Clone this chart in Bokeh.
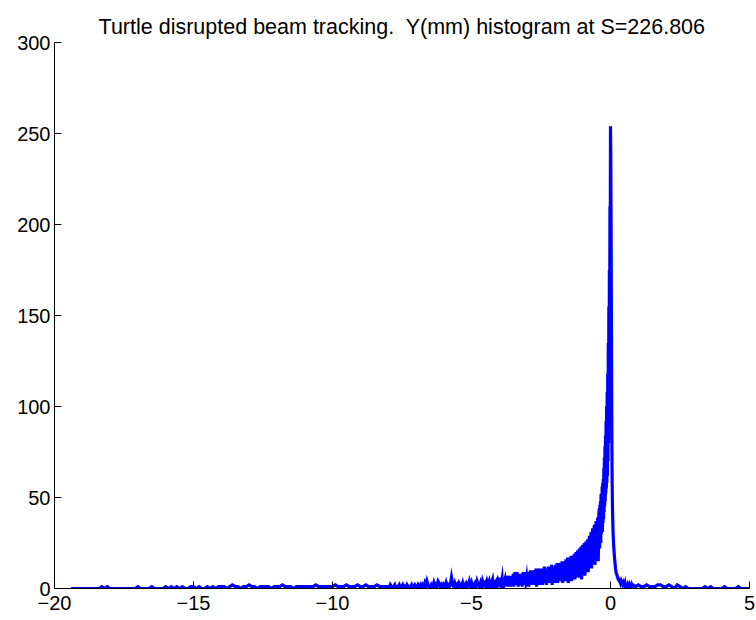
import numpy as np
from bokeh.plotting import figure
from bokeh.models import FixedTicker, ColumnDataSource
from bokeh.embed import file_html
from bokeh.resources import INLINE

# ---- data: histogram counts, in segments of bin width ----
# far left tail: bin centres from -19.4, step 0.1
seg1_start, seg1_step = -19.4, 0.1
seg1_counts = [
    0, 0, 0, 0,
    0, 0, 0, 0, 0, 0, 0, 1, 0, 1,
    0, 0, 0, 0, 0, 0, 0, 0, 0, 0,
    1, 0, 0, 0, 0, 1, 0, 0, 0, 0,
    1, 0, 1, 0, 1, 0, 1, 0, 0, 1,
    1, 0, 1, 0, 0, 1, 0, 1, 0, 1,
    1, 1, 0, 1, 2, 1, 1, 0, 1, 1,
    2, 1, 1, 0, 1, 1, 1, 1, 0, 1,
    1, 1, 2, 1, 1, 1, 0, 1, 1, 1,
    1, 1, 1, 1, 2, 1, 1, 1, 1, 1,
    1, 2, 1, 1, 1, 2, 1, 1, 1, 2,
    1, 1, 2, 1, 1, 1, 2, 1, 1, 1,
]
# left tail: bin centres from -8.0, step 0.04
seg2_start, seg2_step = -8.0, 0.04
seg2_counts = [
    1, 0, 2, 1, 0, 1, 2, 0, 1, 1,
    2, 0, 1, 2, 0, 1, 0, 2, 1, 0,
    1, 2, 0, 1, 2, 1, 0, 2, 1, 2,
    0, 2, 1, 3, 1, 4, 2, 1, 0, 2,
    1, 3, 0, 2, 1, 4, 3, 1, 2, 0,
    2, 1, 3, 0, 2, 1, 2, 6, 2, 1,
    3, 1, 2, 0, 3, 2, 1, 3, 0, 2,
    3, 1, 2, 4, 1, 3, 0, 2, 3, 1,
    4, 2, 1, 3, 0, 4, 2, 3, 1, 4,
    2, 4, 1, 3, 5, 0, 3, 4, 1, 5,
]
# shoulder: bin centres from -4.0, step 0.02
seg3_start, seg3_step = -4.0, 0.02
seg3_counts = [
    4, 1, 6, 2, 3, 5, 0, 6, 2, 4,
    5, 1, 7, 3, 6, 1, 4, 7, 2, 5,
    1, 6, 3, 7, 2, 8, 1, 5, 9, 3,
    6, 2, 9, 4, 1, 7, 3, 8, 2, 6,
    8, 1, 5, 9, 3, 7, 2, 9, 4, 6,
    2, 9, 5, 1, 8, 3, 10, 2, 6, 9,
    3, 10, 6, 2, 9, 4, 11, 1, 7, 10,
    3, 8, 11, 2, 6, 10, 4, 11, 2, 9,
    5, 12, 3, 8, 11, 2, 10, 6, 12, 3,
    9, 12, 4, 7, 13, 2, 10, 5, 12, 8,
    3, 13, 6, 10, 14, 3, 9, 13, 5, 11,
    14, 4, 8, 15, 3, 12, 7, 15, 4, 10,
    16, 5, 12, 17, 3, 9, 16, 6, 13, 18,
    4, 11, 18, 7, 15, 19, 5, 12, 20, 8,
    16, 21, 6, 14, 22, 9, 18, 23, 5, 15,
    24, 10, 19, 25, 7, 17, 26, 12, 21, 27,
    9, 22, 29, 14, 25, 31, 11, 27, 33, 16,
    30, 35, 13, 26, 37, 18, 32, 39, 15, 41,
]
# peak: bin centres from -0.40, step 0.01
seg4_start, seg4_step = -0.40, 0.01
seg4_counts = [
    44, 22, 46, 28, 48, 25, 52, 30, 50, 33,
    56, 31, 58, 36, 60, 38, 66, 42, 72, 45,
    78, 48, 84, 52, 92, 55, 100, 58, 108, 62,
    118, 70, 135, 80, 155, 100, 175, 140, 210, 185,
    254,
    238, 205, 160, 115, 80, 58, 45, 38, 32,
    28, 25, 22, 20, 18, 16, 14, 13, 11, 10,
]
# right side of the peak: bin centres from 0.20, step 0.02
seg5_start, seg5_step = 0.20, 0.02
seg5_counts = [
    9, 8, 7, 6, 5, 5, 4, 4, 3, 4,
    3, 3, 2, 3, 2, 2, 3, 1, 2, 2,
    1, 2, 1, 1, 2, 1, 1, 1, 2, 1,
]
# right tail: bin centres from 0.8, step 0.1
seg6_start, seg6_step = 0.8, 0.1
seg6_counts = [
    2, 1, 2, 1, 1, 2, 1, 1, 1, 2,
    2, 1, 1, 2, 1, 0, 2, 1, 0, 1,
    0, 0, 0, 0, 0, 0, 1, 0, 1, 0,
    0, 0, 0, 1, 0, 0, 0, 0, 1, 0,
    0, 0, 0,
]

x_min, x_max = -20, 5
y_min, y_max = 0, 300
x_ticks = [-20, -15, -10, -5, 0, 5]
y_ticks = [0, 50, 100, 150, 200, 250, 300]
title_text = "Turtle disrupted beam tracking.\u00a0 Y(mm) histogram at S=226.806"

segments = [
    (seg1_start, seg1_step, seg1_counts),
    (seg2_start, seg2_step, seg2_counts),
    (seg3_start, seg3_step, seg3_counts),
    (seg4_start, seg4_step, seg4_counts),
    (seg5_start, seg5_step, seg5_counts),
    (seg6_start, seg6_step, seg6_counts),
]
xs, ys = [], []
for start, step, counts in segments:
    xs.extend(start + step * np.arange(len(counts)))
    ys.extend(counts)
src = ColumnDataSource(data=dict(x=xs, y=ys))

FONT = "Liberation Sans"

p = figure(width=756, height=620, output_backend="svg", toolbar_location=None,
           x_range=(x_min, x_max), y_range=(y_min, y_max),
           min_border_left=54, min_border_right=7, min_border_top=42, min_border_bottom=32)
p.title.text = title_text
p.title.align = "center"
p.title.vertical_align = "top"
p.title.standoff = 4
p.title.text_font = FONT
p.title.text_font_size = "21.5px"
p.title.text_font_style = "normal"
p.title.text_color = "black"

p.line("x", "y", source=src, line_color="#0000FF", line_width=3.2, line_join="miter")

p.outline_line_color = None
p.grid.visible = False
p.background_fill_color = "white"
p.border_fill_color = "white"

for ax, ticks in ((p.xaxis[0], x_ticks), (p.yaxis[0], y_ticks)):
    ax.ticker = FixedTicker(ticks=ticks)
    ax.major_label_overrides = {t: (("\u2212" + str(-t)) if t < 0 else str(t)) for t in ticks}
    ax.major_tick_in = 7
    ax.major_tick_out = 0
    ax.minor_tick_line_color = None
    ax.axis_line_color = "black"
    ax.major_tick_line_color = "black"
    ax.major_label_text_font = FONT
    ax.major_label_text_font_size = "20px"
    ax.major_label_text_color = "black"

p.xaxis.major_label_standoff = 7
p.yaxis.major_label_standoff = 4

open("out.html", "w").write(file_html(p, INLINE))
